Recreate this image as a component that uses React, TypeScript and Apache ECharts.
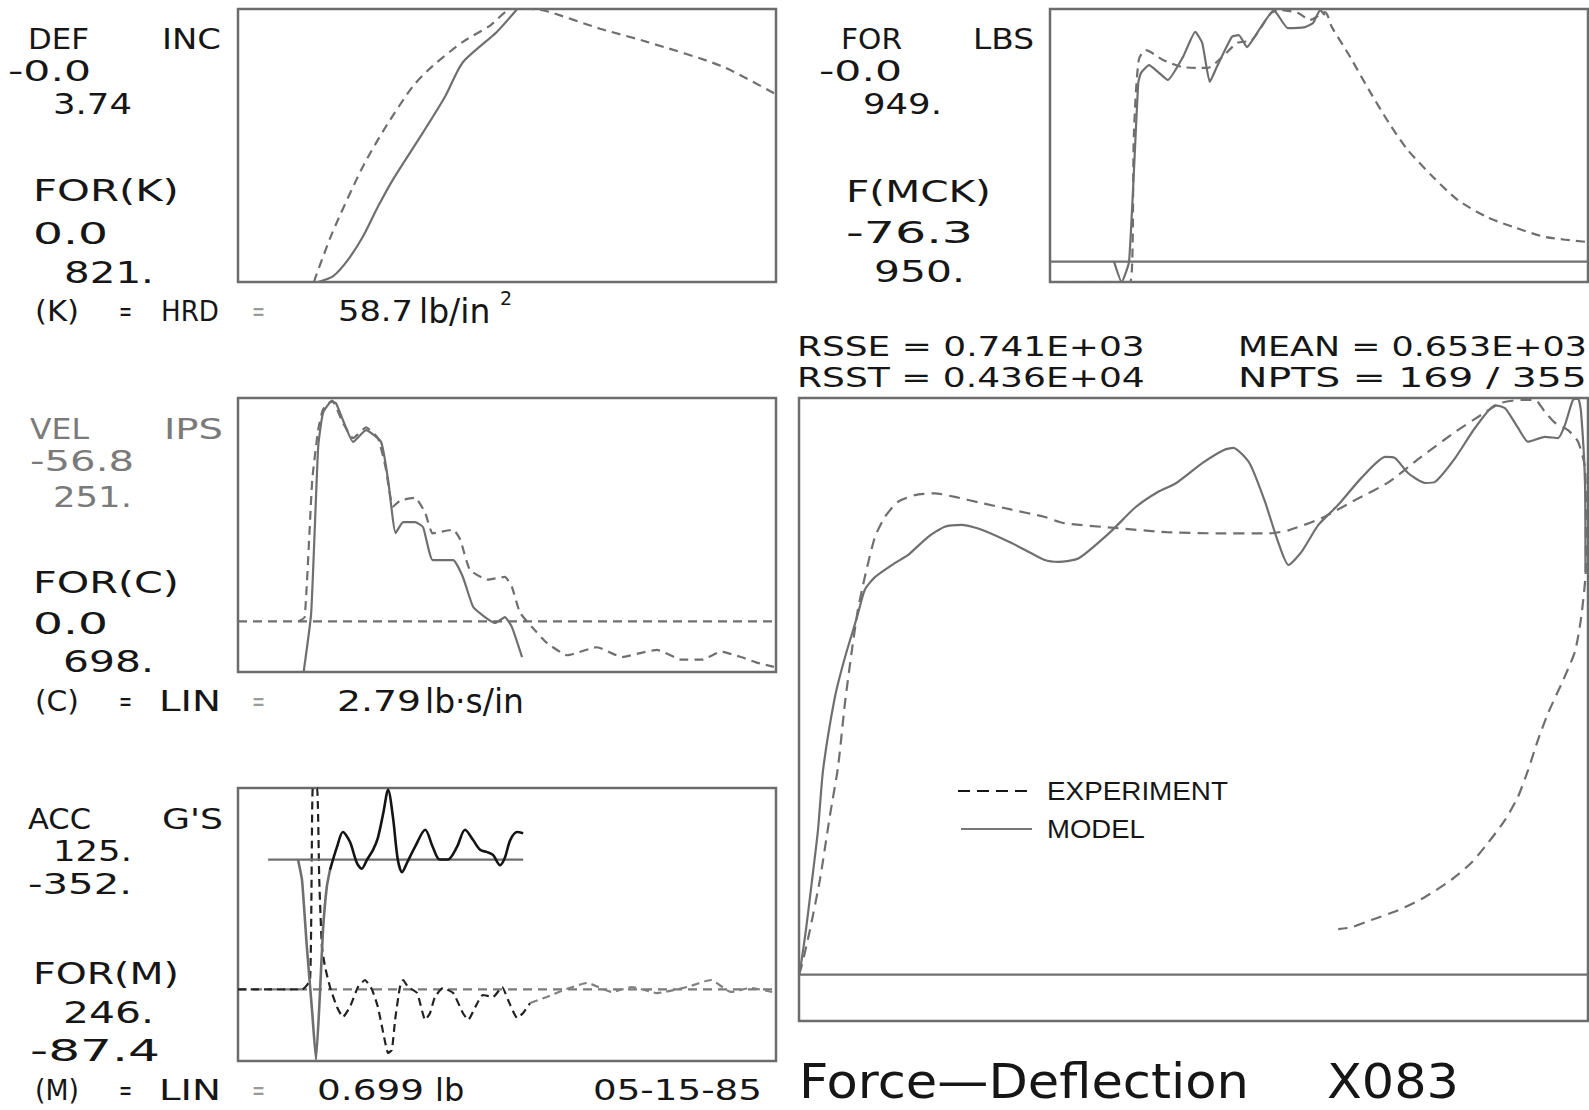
import React, { useEffect, useRef } from "react";
import * as echarts from "echarts";

// ---------- axis ranges (from the printed min / max labels) ----------
const timeRange = [0, 100]; // % of record window
const defRange = [0, 3.74];
const forKRange = [0, 821];
const forRange = [0, 949];
const fmckRange = [-76.3, 950];
const velRange = [-56.8, 251];
const forCRange = [0, 698];
const accRange = [-352, 125];
const forMRange = [-87.4, 246];
const deflRange = [0, 3.74];

// ---------- panel A : deflection (dashed) and spring force (solid) ----------
const defExp = [
  [14.1, 0], [17.5, 0.67], [23.2, 1.58], [27.5, 2.13], [32.5, 2.68], [36.2, 2.96],
  [41.8, 3.29], [46.8, 3.51], [50.9, 3.74], [54.3, 3.74], [57.4, 3.71], [67.3, 3.47],
  [76.0, 3.29], [89.8, 2.96], [100, 2.57],
];
const forKModel = [
  [14.9, 0], [17.7, 18], [20.4, 66], [23.2, 136], [26.0, 226], [28.8, 308], [34.4, 450],
  [38.5, 558], [41.8, 661], [48.1, 752], [51.9, 821],
];

// ---------- panel B : measured force (dashed) and model force (solid) ----------
const forExp = [
  [0, 0], [14.9, 0], [15.6, 518], [16.5, 772], [17.8, 806], [21.0, 772], [24.7, 747],
  [29.2, 744], [32.0, 782], [34.8, 831], [37.5, 841], [41.1, 935], [42.9, 945], [46.1, 935],
  [48.3, 911], [51.1, 938], [52.4, 886], [55.8, 782], [59.3, 667], [63.0, 553], [66.5, 459],
  [71.2, 365], [75.8, 285], [81.2, 226], [86.6, 188], [92.2, 156], [100, 139],
];
const fmckModel = [
  [11.9, 0], [13.3, -76], [14.7, 0], [16.4, 672], [16.9, 709], [18.4, 739], [20.1, 713],
  [21.9, 683], [24.7, 769], [27.0, 864], [28.3, 822], [29.7, 676], [31.0, 732], [33.8, 845],
  [35.1, 852], [36.6, 807], [39.2, 882], [41.6, 946], [44.2, 878], [47.4, 882], [48.9, 897],
  [50.2, 946], [51.1, 927],
];

// ---------- panel C : velocity (dashed) and damper force (solid) ----------
const velExp = [
  [11.2, 0], [12.4, 5], [13.8, 159], [14.9, 215], [15.8, 238], [17.5, 248], [19.5, 223],
  [21.4, 206], [23.8, 218], [26.0, 206], [27.4, 174], [28.8, 129], [30.2, 136], [32.9, 139],
  [34.8, 122], [36.2, 99], [40.0, 103], [41.3, 92], [43.1, 58], [46.4, 47], [49.6, 50],
  [50.9, 39], [52.4, 10], [54.6, -6], [57.4, -24], [61.2, -38], [66.7, -29], [71.4, -40],
  [75.1, -35], [77.9, -32], [82.5, -43], [86.2, -43], [89.8, -34], [93.5, -40], [96.3, -46],
  [99.6, -51],
];
const forCModel = [
  [12.2, 0], [13.6, 150], [14.9, 573], [15.8, 660], [17.3, 688], [18.2, 685], [19.5, 642],
  [21.4, 586], [23.8, 616], [26.6, 586], [27.9, 489], [29.3, 354], [30.7, 382], [32.9, 382],
  [34.4, 369], [36.2, 285], [40.0, 285], [41.8, 242], [43.7, 166], [45.9, 140], [47.8, 125],
  [49.6, 140], [50.9, 115], [52.8, 38],
];

// ---------- panel D : acceleration (solid) and mass force (dashed) ----------
const accDip = [
  [11.15, 0], [11.9, -36], [12.8, -153], [13.8, -268], [14.5, -350], [15.2, -240],
  [15.8, -123], [16.5, -48], [17.1, -18],
];
const accRing = [
  [17.1, -18], [18.4, 22], [19.5, 48], [20.8, 31], [22.1, -6], [23.0, -16], [24.0, 0],
  [25.1, 17], [26.0, 38], [27.0, 81], [27.9, 122], [28.8, 74], [29.7, 0], [30.5, -22],
  [31.4, -6], [32.9, 22], [34.8, 52], [36.2, 22], [37.5, 0], [39.0, 0], [40.7, 22],
  [42.2, 52], [43.7, 34], [45.0, 17], [46.3, 13], [47.4, 8], [48.7, -10], [49.6, 3],
  [50.6, 34], [51.9, 48], [53.0, 46],
];
const accZero = [[5.6, 0], [53.0, 0]];
const forMEarly = [
  [0, 0], [11.9, 0], [13.4, 11.5], [13.9, 246], [14.7, 246], [15.1, 134], [15.6, 52],
  [16.2, 27], [17.1, 3], [18.4, -21.5], [19.5, -33.7], [20.8, -21.5], [22.3, 3], [23.6, 11.5],
  [24.9, 0], [26.0, -21.5], [27.0, -53.2], [27.9, -77.6], [28.6, -74], [29.2, -37.3],
  [30.1, 3], [30.7, 11.5], [31.6, 3], [33.3, -4.4], [34.8, -37.3], [35.7, -28.8],
  [36.6, -9.2], [38.1, 1.7], [40.0, -4.4], [41.8, -28.8], [42.8, -37.3], [44.1, -21.5],
  [45.5, -6.8], [47.4, -9.2], [49.1, 3], [50.2, -12.9], [51.9, -34.9], [53.0, -28.8],
  [54.3, -16.6],
];
const forMLate = [
  [54.3, -16.6], [57.4, -9.2], [60.8, 0], [64.9, 7.9], [69.5, -3.1], [73.2, 3], [77.9, -4.4],
  [83.5, 3], [87.9, 11.5], [91.6, -3.1], [95.2, 1.7], [99.3, -3.1],
];

// ---------- panel E : force vs deflection ----------
const modelFD = [
  [0, 0], [0.009, 16], [0.033, 74], [0.062, 156], [0.09, 238], [0.114, 337], [0.17, 457],
  [0.218, 523], [0.275, 589], [0.312, 634], [0.36, 655], [0.454, 678], [0.516, 691],
  [0.611, 721], [0.691, 738], [0.772, 741], [0.866, 733], [1.008, 711], [1.165, 683],
  [1.231, 680], [1.326, 686], [1.472, 728], [1.595, 770], [1.695, 794], [1.789, 810],
  [1.913, 843], [2.012, 864], [2.059, 868], [2.135, 843], [2.206, 782], [2.268, 716],
  [2.32, 675], [2.381, 696], [2.462, 741], [2.556, 774], [2.665, 818], [2.779, 853],
  [2.826, 851], [2.888, 826], [2.968, 810], [3.016, 812], [3.11, 851], [3.205, 901],
  [3.3, 938], [3.347, 933], [3.408, 901], [3.456, 878], [3.536, 886], [3.598, 884],
  [3.631, 906], [3.669, 947], [3.693, 949], [3.707, 927], [3.726, 807], [3.728, 663],
];
const expFD = [
  [0, 0], [0.014, 16], [0.052, 74], [0.099, 156], [0.147, 263], [0.185, 342], [0.218, 448],
  [0.251, 535], [0.279, 601], [0.312, 655], [0.36, 721], [0.407, 754], [0.469, 779],
  [0.549, 790], [0.644, 793], [0.739, 787], [0.866, 777], [1.008, 766], [1.165, 754],
  [1.255, 744], [1.496, 736], [1.742, 729], [1.988, 727], [2.23, 727], [2.32, 732],
  [2.476, 752], [2.637, 782], [2.793, 811], [2.949, 853], [3.11, 894], [3.233, 922],
  [3.328, 942], [3.423, 947], [3.489, 947], [3.536, 927], [3.584, 909], [3.645, 897],
  [3.693, 878], [3.726, 835], [3.73, 752], [3.73, 670], [3.707, 587], [3.678, 532],
  [3.622, 485], [3.551, 431], [3.503, 387], [3.456, 337], [3.408, 293], [3.347, 255],
  [3.266, 217], [3.186, 184], [3.091, 156], [2.968, 128], [2.84, 106], [2.713, 90],
  [2.618, 78], [2.556, 75],
];

// ---------- texts ----------
const defLabels = ["DEF", "INC", "-0.0", "3.74"];
const forKLabels = ["FOR(K)", "0.0", "821."];
const kLine = ["(K)", "=", "HRD", "=", "58.7", "lb/in", "2"];
const forLabels = ["FOR", "LBS", "-0.0", "949."];
const fmckLabels = ["F(MCK)", "-76.3", "950."];
const statLines = ["RSSE = 0.741E+03", "RSST = 0.436E+04", "MEAN = 0.653E+03", "NPTS = 169 / 355"];
const velLabels = ["VEL", "IPS", "-56.8", "251."];
const forCLabels = ["FOR(C)", "0.0", "698."];
const cLine = ["(C)", "=", "LIN", "=", "2.79", "lb·s/in"];
const accLabels = ["ACC", "G'S", "125.", "-352."];
const forMLabels = ["FOR(M)", "246.", "-87.4"];
const mLine = ["(M)", "=", "LIN", "=", "0.699", "lb"];
const dateLabel = "05-15-85";
const titleTexts = ["Force—Deflection", "X083"];
const legendNames = ["EXPERIMENT", "MODEL"];

const PLOT = '"DejaVu Sans", sans-serif';
const SANS = '"DejaVu Sans", sans-serif';
const LIB = '"Liberation Sans", Arial, sans-serif';
const INK = "#161616";
const GREY_TXT = "#7a7a7a";
const CURVE = "#6f6f6f";

let measureCtx: CanvasRenderingContext2D | null = null;
function textWidth(text: string, font: string) {
  if (!measureCtx) measureCtx = document.createElement("canvas").getContext("2d");
  if (!measureCtx) return text.length * 10;
  measureCtx.font = font;
  return measureCtx.measureText(text).width || 1;
}

// plotter lettering: fitted to the printed width
function fit(text: string, x: number, y: number, size: number, width: number, fill = INK, family = PLOT) {
  const font = `${size}px ${family}`;
  return {
    type: "text",
    x,
    y,
    scaleX: width / textWidth(text, font),
    silent: true,
    style: {
      text,
      font,
      fill,
      textAlign: "left",
      textVerticalAlign: "middle",
      align: "left",
      verticalAlign: "middle",
    },
  };
}
function plain(text: string, x: number, y: number, size: number, family: string, fill = INK, scaleX = 1) {
  return {
    type: "text",
    x,
    y,
    scaleX,
    silent: true,
    style: {
      text,
      font: `${size}px ${family}`,
      fill,
      textAlign: "left",
      textVerticalAlign: "middle",
      align: "left",
      verticalAlign: "middle",
    },
  };
}

function line(data: number[][], xi: number, yi: number, color: string, dashed: boolean, width = 2.2, dash = [9, 6], smooth = 0.25) {
  return {
    type: "line",
    xAxisIndex: xi,
    yAxisIndex: yi,
    data,
    symbol: "none",
    showSymbol: false,
    smooth,
    silent: true,
    clip: true,
    lineStyle: { color, width, type: dashed ? dash : "solid" },
  };
}

const SMALL = 28;
const BIG = 30;
const STAT = 26;

export default function App() {
  const ref = useRef<HTMLDivElement>(null);
  useEffect(() => {
    if (!ref.current) return;
    const chart = echarts.init(ref.current, null, { renderer: "svg" });

    const gridBase = { show: true, borderColor: "#6c6c6c", borderWidth: 2.5, backgroundColor: "transparent" };
    const grids = [
      { left: 238, top: 9, width: 538, height: 273 },
      { left: 1050, top: 9, width: 538, height: 273 },
      { left: 238, top: 398, width: 538, height: 274 },
      { left: 238, top: 788, width: 538, height: 273 },
      { left: 799, top: 398, width: 789, height: 623 },
    ].map((g) => ({ ...gridBase, ...g }));

    const hidden = { show: false, splitLine: { show: false }, axisLine: { show: false }, axisTick: { show: false }, axisLabel: { show: false } };
    const xAxis: any[] = [0, 1, 2, 3].map((i) => ({ type: "value", gridIndex: i, min: timeRange[0], max: timeRange[1], ...hidden }));
    xAxis.push({ type: "value", gridIndex: 4, min: deflRange[0], max: deflRange[1], ...hidden });

    const yDefs: [number, number[]][] = [
      [0, defRange], [0, forKRange], [1, forRange], [1, fmckRange], [2, velRange],
      [2, forCRange], [3, accRange], [3, forMRange], [4, fmckRange],
    ];
    const yAxis = yDefs.map(([g, r]) => ({ type: "value", gridIndex: g, min: r[0], max: r[1], ...hidden }));

    const series = [
      // A
      line(defExp, 0, 0, CURVE, true),
      line(forKModel, 0, 1, CURVE, false),
      // B
      line([[0, 0], [100, 0]], 1, 3, CURVE, false, 2.2, undefined, 0),
      line(forExp, 1, 2, CURVE, true),
      line(fmckModel, 1, 3, CURVE, false, 2.2, undefined, 0.15),
      // C
      line([[0, 0], [100, 0]], 2, 4, CURVE, true, 2.2, [9, 6], 0),
      line(velExp, 2, 4, CURVE, true, 2.2, [9, 6], 0.15),
      line(forCModel, 2, 5, CURVE, false, 2.2, undefined, 0.15),
      // D
      line([[0, 0], [100, 0]], 3, 7, "#7a7a7a", true, 2.2, [9, 6], 0),
      line(forMEarly, 3, 7, "#222222", true, 2.2, [8, 5], 0.15),
      line(forMLate, 3, 7, "#808080", true, 2.2, [8, 5], 0.15),
      line(accZero, 3, 6, CURVE, false, 2.2, undefined, 0),
      line(accDip, 3, 6, CURVE, false, 2.6, undefined, 0.15),
      line(accRing, 3, 6, "#141414", false, 2.6, undefined, 0.3),
      // E
      line([[0, 0], [3.74, 0]], 4, 8, CURVE, false, 2.2, undefined, 0),
      line(expFD, 4, 8, CURVE, true, 2.2, [11, 7], 0.2),
      line(modelFD, 4, 8, CURVE, false, 2.2, undefined, 0.2),
    ];

    const graphics: any[] = [
      // panel A labels
      fit(defLabels[0], 28, 39, SMALL, 61),
      fit(defLabels[1], 162, 39, SMALL, 59),
      fit(defLabels[2], 8, 71, SMALL, 83),
      fit(defLabels[3], 53, 104, SMALL, 79),
      fit(forKLabels[0], 33, 191, BIG, 146),
      fit(forKLabels[1], 33, 233, BIG, 75),
      fit(forKLabels[2], 64, 272, BIG, 90),
      fit(kLine[0], 35, 311, SMALL, 44),
      fit(kLine[1], 119, 311, SMALL, 13),
      fit(kLine[2], 161, 311, SMALL, 58),
      fit(kLine[3], 252, 311, SMALL, 13, "#9a9a9a"),
      fit(kLine[4], 338, 311, SMALL, 75),
      plain(kLine[5], 419, 311, 33, SANS),
      plain(kLine[6], 500, 298, 19, SANS),
      // panel B labels
      fit(forLabels[0], 841, 39, SMALL, 61),
      fit(forLabels[1], 973, 39, SMALL, 61),
      fit(forLabels[2], 819, 71, SMALL, 83),
      fit(forLabels[3], 863, 104, SMALL, 79),
      fit(fmckLabels[0], 846, 191, BIG, 145),
      fit(fmckLabels[1], 846, 233, BIG, 127),
      fit(fmckLabels[2], 874, 272, BIG, 91),
      // stats
      fit(statLines[0], 797, 347, STAT, 348),
      fit(statLines[1], 797, 378, STAT, 348),
      fit(statLines[2], 1238, 347, STAT, 349),
      fit(statLines[3], 1238, 378, STAT, 349),
      // panel C labels
      fit(velLabels[0], 30, 429, SMALL, 59, GREY_TXT),
      fit(velLabels[1], 164, 429, SMALL, 59, GREY_TXT),
      fit(velLabels[2], 30, 461, SMALL, 104, GREY_TXT),
      fit(velLabels[3], 53, 497, SMALL, 79, GREY_TXT),
      fit(forCLabels[0], 33, 583, BIG, 146),
      fit(forCLabels[1], 33, 623, BIG, 75),
      fit(forCLabels[2], 63, 662, BIG, 91),
      fit(cLine[0], 35, 701, SMALL, 44),
      fit(cLine[1], 119, 701, SMALL, 13),
      fit(cLine[2], 159, 701, SMALL, 62),
      fit(cLine[3], 252, 701, SMALL, 13, "#9a9a9a"),
      fit(cLine[4], 337, 701, SMALL, 84),
      plain(cLine[5], 425, 701, 33, SANS),
      // panel D labels
      fit(accLabels[0], 28, 819, SMALL, 63),
      fit(accLabels[1], 162, 819, SMALL, 61),
      fit(accLabels[2], 53, 851, SMALL, 79),
      fit(accLabels[3], 28, 884, SMALL, 104),
      fit(forMLabels[0], 33, 973, BIG, 146),
      fit(forMLabels[1], 63, 1013, BIG, 91),
      fit(forMLabels[2], 30, 1051, BIG, 130),
      fit(mLine[0], 35, 1090, SMALL, 44),
      fit(mLine[1], 119, 1090, SMALL, 13),
      fit(mLine[2], 159, 1090, SMALL, 62),
      fit(mLine[3], 252, 1090, SMALL, 13, "#9a9a9a"),
      fit(mLine[4], 317, 1090, SMALL, 107),
      plain(mLine[5], 435, 1090, 32, SANS),
      fit(dateLabel, 593, 1090, SMALL, 169),
      // title
      fit(titleTexts[0], 799, 1082, 48, 450),
      fit(titleTexts[1], 1327, 1082, 48, 132),
      // legend
      {
        type: "line",
        silent: true,
        shape: { x1: 958, y1: 791, x2: 1034, y2: 791 },
        style: { stroke: "#151515", lineWidth: 2.2, lineDash: [12, 7] },
      },
      {
        type: "line",
        silent: true,
        shape: { x1: 961, y1: 829, x2: 1032, y2: 829 },
        style: { stroke: "#777777", lineWidth: 2.2 },
      },
      fit(legendNames[0], 1047, 791, 25, 181, INK, LIB),
      fit(legendNames[1], 1047, 829, 25, 98, INK, LIB),
    ];

    chart.setOption({
      animation: false,
      backgroundColor: "#ffffff",
      grid: grids,
      xAxis,
      yAxis,
      series,
      graphic: { elements: graphics },
    });
    return () => chart.dispose();
  }, []);

  return (
    <div
      ref={ref}
      style={{ position: "fixed", left: 0, top: 0, width: "1589px", height: "1110px", background: "#fff" }}
    />
  );
}
